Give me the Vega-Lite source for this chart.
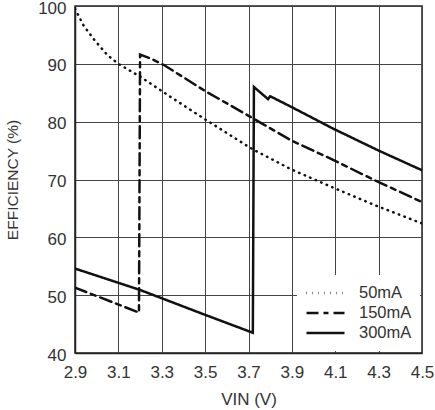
{
  "$schema": "https://vega.github.io/schema/vega-lite/v6.json",
  "width": 347,
  "height": 347,
  "autosize": "none",
  "padding": {"left": 75, "top": 6, "right": 13, "bottom": 57},
  "background": "white",
  "data": {
    "values": [
      {"load": "50mA", "vin": 2.9, "eff": 99.5},
      {"load": "50mA", "vin": 2.94, "eff": 96.6},
      {"load": "50mA", "vin": 2.99, "eff": 94.1},
      {"load": "50mA", "vin": 3.05, "eff": 91.5},
      {"load": "50mA", "vin": 3.1, "eff": 90.0},
      {"load": "50mA", "vin": 3.2, "eff": 87.8},
      {"load": "50mA", "vin": 3.34, "eff": 84.3},
      {"load": "50mA", "vin": 3.5, "eff": 80.4},
      {"load": "50mA", "vin": 3.72, "eff": 75.2},
      {"load": "50mA", "vin": 3.9, "eff": 71.7},
      {"load": "50mA", "vin": 4.09, "eff": 68.6},
      {"load": "50mA", "vin": 4.28, "eff": 65.6},
      {"load": "50mA", "vin": 4.5, "eff": 62.4},
      {"load": "150mA", "vin": 2.9, "eff": 51.3},
      {"load": "150mA", "vin": 3.195, "eff": 47.0},
      {"load": "150mA", "vin": 3.2, "eff": 91.6},
      {"load": "150mA", "vin": 3.25, "eff": 90.9},
      {"load": "150mA", "vin": 3.31, "eff": 89.8},
      {"load": "150mA", "vin": 3.5, "eff": 85.3},
      {"load": "150mA", "vin": 3.72, "eff": 80.6},
      {"load": "150mA", "vin": 3.9, "eff": 76.7},
      {"load": "150mA", "vin": 4.09, "eff": 73.4},
      {"load": "150mA", "vin": 4.28, "eff": 69.9},
      {"load": "150mA", "vin": 4.5, "eff": 66.1},
      {"load": "300mA", "vin": 2.9, "eff": 54.6},
      {"load": "300mA", "vin": 3.2, "eff": 50.9},
      {"load": "300mA", "vin": 3.5, "eff": 46.6},
      {"load": "300mA", "vin": 3.72, "eff": 43.5},
      {"load": "300mA", "vin": 3.725, "eff": 86.0},
      {"load": "300mA", "vin": 3.79, "eff": 83.9},
      {"load": "300mA", "vin": 3.8, "eff": 84.4},
      {"load": "300mA", "vin": 3.9, "eff": 82.5},
      {"load": "300mA", "vin": 4.09, "eff": 78.8},
      {"load": "300mA", "vin": 4.3, "eff": 75.0},
      {"load": "300mA", "vin": 4.5, "eff": 71.6}
    ]
  },
  "mark": {"type": "line", "color": "#111111", "strokeWidth": 2.5, "strokeCap": "round", "clip": true},
  "encoding": {
    "x": {
      "field": "vin",
      "type": "quantitative",
      "title": "VIN (V)",
      "scale": {"domain": [2.9, 4.5], "nice": false, "zero": false},
      "axis": {"values": [2.9, 3.1, 3.3, 3.5, 3.7, 3.9, 4.1, 4.3, 4.5], "format": ".1f", "titlePadding": 11, "labelPadding": 11}
    },
    "y": {
      "field": "eff",
      "type": "quantitative",
      "title": "EFFICIENCY (%)",
      "scale": {"domain": [40, 100], "nice": false, "zero": false},
      "axis": {"values": [40, 50, 60, 70, 80, 90, 100], "titlePadding": 17, "labelPadding": 9, "labelOffset": 2}
    },
    "strokeDash": {
      "field": "load",
      "type": "nominal",
      "scale": {
        "domain": ["50mA", "150mA", "300mA"],
        "range": [[0.5, 5.5], [12, 5, 5, 5], [1, 0]]
      },
      "legend": {
        "title": null,
        "orient": "bottom-right",
        "offset": 2,
        "fillColor": "white",
        "padding": 8,
        "symbolType": "stroke",
        "symbolSize": 1444,
        "symbolStrokeWidth": 2.5,
        "symbolStrokeColor": "#111111",
        "clipHeight": 20,
        "labelFontSize": 16.5,
        "labelFont": "Liberation Sans",
        "labelColor": "#333333",
        "labelOffset": 13,
        "rowPadding": 0
      }
    }
  },
  "config": {
    "view": {"stroke": "#222222", "strokeWidth": 1.5},
    "axis": {
      "grid": true,
      "gridColor": "#444444",
      "gridWidth": 1,
      "gridOpacity": 1,
      "domainColor": "#222222",
      "domainWidth": 1.5,
      "ticks": false,
      "labelFlush": false,
      "labelOverlap": false,
      "labelBound": false,
      "labelFont": "Liberation Sans",
      "labelFontSize": 17,
      "labelColor": "#333333",
      "titleFont": "Liberation Sans",
      "titleFontWeight": "normal",
      "titleColor": "#333333"
    },
    "axisX": {"titleFontSize": 17},
    "axisY": {"titleFontSize": 15.5}
  }
}
